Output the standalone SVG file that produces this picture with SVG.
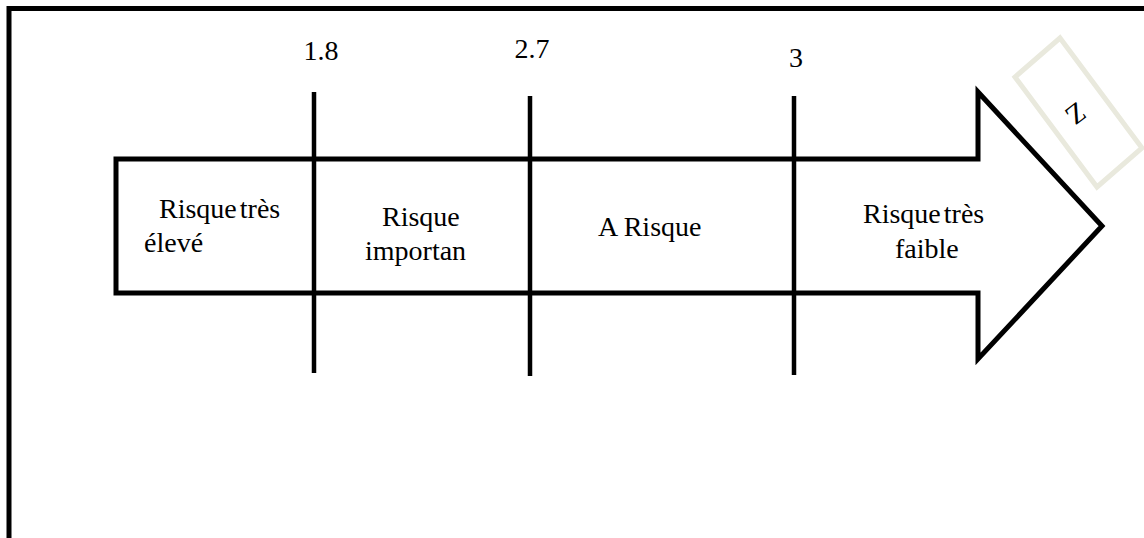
<svg xmlns="http://www.w3.org/2000/svg" width="1144" height="538" viewBox="0 0 1144 538">
<style>
  .lbl { font-family: Tinos, 'Times New Roman', 'Liberation Serif', serif; font-size: 28px; fill: #000; }
</style>
<rect width="1144" height="538" fill="#fff"/>
<g id="frame">
  <path d="M9,540 V8.5 H1146" fill="none" stroke="#000" stroke-width="5"/>
</g>
<g id="arrow">
  <path d="M116,159 H978 V92 L1102,226 L978,359 V293 H116 Z" fill="#fff" stroke="#000" stroke-width="5" stroke-linejoin="miter"/>
</g>
<g id="zbox">
  <polygon points="1060,38 1142,148 1097,187 1015,77" fill="none" stroke="#e9e9dd" stroke-width="5"/>
  <text class="lbl" transform="translate(1076,114) rotate(143)" text-anchor="middle" dominant-baseline="central">Z</text>
</g>
<g id="connectors" stroke="#000" stroke-width="4.5">
  <line x1="314" y1="92" x2="314" y2="373"/>
  <line x1="530" y1="96" x2="530" y2="376"/>
  <line x1="794" y1="96" x2="794" y2="375"/>
</g>
<g id="labels-top">
  <text class="lbl" x="321" y="60" text-anchor="middle">1.8</text>
  <text class="lbl" x="532" y="58" text-anchor="middle">2.7</text>
  <text class="lbl" x="796" y="67" text-anchor="middle">3</text>
</g>
<g id="seg1">
  <text class="lbl" x="159" y="218" word-spacing="-4">Risque très</text>
  <text class="lbl" x="144" y="252">élevé</text>
</g>
<g id="seg2">
  <text class="lbl" x="382" y="226">Risque</text>
  <text class="lbl" x="365" y="260">importan</text>
</g>
<g id="seg3">
  <text class="lbl" x="598" y="236">A Risque</text>
</g>
<g id="seg4">
  <text class="lbl" x="863" y="223" word-spacing="-4">Risque très</text>
  <text class="lbl" x="895" y="258">faible</text>
</g>
</svg>
